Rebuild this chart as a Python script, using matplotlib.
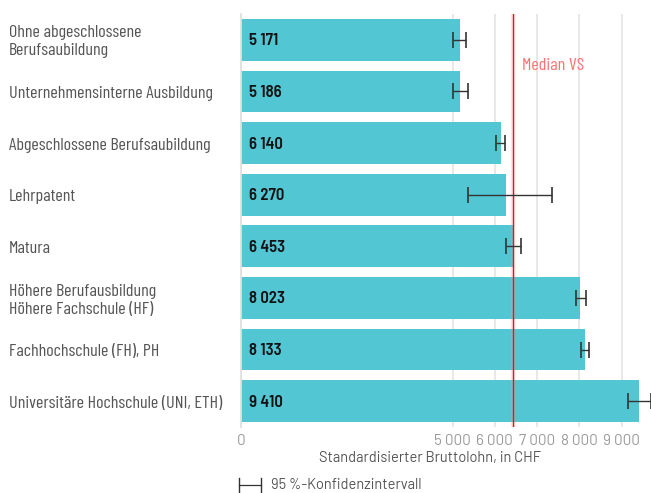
import matplotlib.pyplot as plt
from matplotlib.lines import Line2D
from matplotlib.transforms import blended_transform_factory

COND = ['Barlow Condensed', 'Roboto Condensed', 'DejaVu Sans']
SEMI = ['Barlow Semi Condensed', 'Roboto Condensed', 'DejaVu Sans']
REG = ['Barlow', 'Roboto', 'DejaVu Sans']
plt.rcParams['font.family'] = COND

categories = ['Ohne abgeschlossene\nBerufsaubildung',
              'Unternehmensinterne Ausbildung',
              'Abgeschlossene Berufsaubildung',
              'Lehrpatent',
              'Matura',
              'Höhere Berufausbildung\nHöhere Fachschule (HF)',
              'Fachhochschule (FH), PH',
              'Universitäre Hochschule (UNI, ETH)']
values = [5171, 5186, 6140, 6270, 6453, 8023, 8133, 9410]
ci_low = [5020, 5005, 6035, 5365, 6255, 7910, 8045, 9155]
ci_high = [5320, 5365, 6250, 7345, 6610, 8155, 8220, 9700]
median_vs = 6430
xticks = [0, 5000, 6000, 7000, 8000, 9000]
xtick_labels = ['0', '5 000', '6 000', '7 000', '8 000', '9 000']

bar_color = '#53c6d4'
W, H = 651, 493

fig = plt.figure(figsize=(W / 100, H / 100), dpi=100)
ax = fig.add_axes([241 / W, 1 - 427 / H, 1 - 241 / W, (427 - 14) / H])

ypos = list(range(len(values)))
ax.barh(ypos, values, height=0.81, color=bar_color, zorder=2)

err_lo = [v - l for v, l in zip(values, ci_low)]
err_hi = [h - v for v, h in zip(values, ci_high)]
ax.errorbar(values, ypos, xerr=[err_lo, err_hi], fmt='none', ecolor='#333333',
            elinewidth=1.0, capsize=6, capthick=1.2, zorder=4)

# median line with soft glow
ax.axvline(median_vs, color='#ff9a9a', lw=3, alpha=0.25, zorder=3)
ax.axvline(median_vs, color='#e8141c', lw=1.0, zorder=3)
ax.text(median_vs + 220, 0.49, 'Median VS', color='#ff7373', fontsize=13,
        va='center', ha='left', zorder=5)

for y, v in zip(ypos, values):
    ax.text(200, y + 0.02, f'{v:,}'.replace(',', ' '), va='center', ha='left',
            fontsize=12, fontweight=600, color='#111111', zorder=5, family=SEMI)

trans = blended_transform_factory(fig.transFigure, ax.transData)
for y, c in zip(ypos, categories):
    ax.text(9 / W, y + 0.04, c, transform=trans, va='center', ha='left',
            fontsize=13, color='#555555', linespacing=1.25)

ax.set_xlim(0, 9690)
ax.set_ylim(7.5, -0.5)
ax.set_yticks([])
ax.set_xticks(xticks)
ax.set_xticklabels(xtick_labels, color='#9a9a9a', fontsize=11, family=REG)
ax.tick_params(axis='x', length=0, pad=5)
ax.grid(axis='x', color='#e6e6e6', lw=1.3, zorder=0)
for s in ['top', 'right', 'bottom']:
    ax.spines[s].set_visible(False)
ax.spines['left'].set_color('#e0e0e0')
ax.spines['left'].set_linewidth(1.3)

fig.text(430 / W, 1 - 458 / H, 'Standardisierter Bruttolohn, in CHF',
         ha='center', va='center', fontsize=10.5, color='#555555', family=REG)

# legend glyph for confidence interval
ly = 1 - 485 / H
fig.add_artist(Line2D([239 / W, 261 / W], [ly, ly], color='#333333', lw=0.9,
                      transform=fig.transFigure))
for xx in [239, 261]:
    fig.add_artist(Line2D([xx / W, xx / W], [ly - 7 / H, ly + 7 / H], color='#333333',
                          lw=1.0, transform=fig.transFigure))
fig.text(271 / W, ly, '95 %-Konfidenzintervall', ha='left', va='center',
         fontsize=10.5, color='#555555', family=REG)

fig.savefig('out.png', dpi=100)
